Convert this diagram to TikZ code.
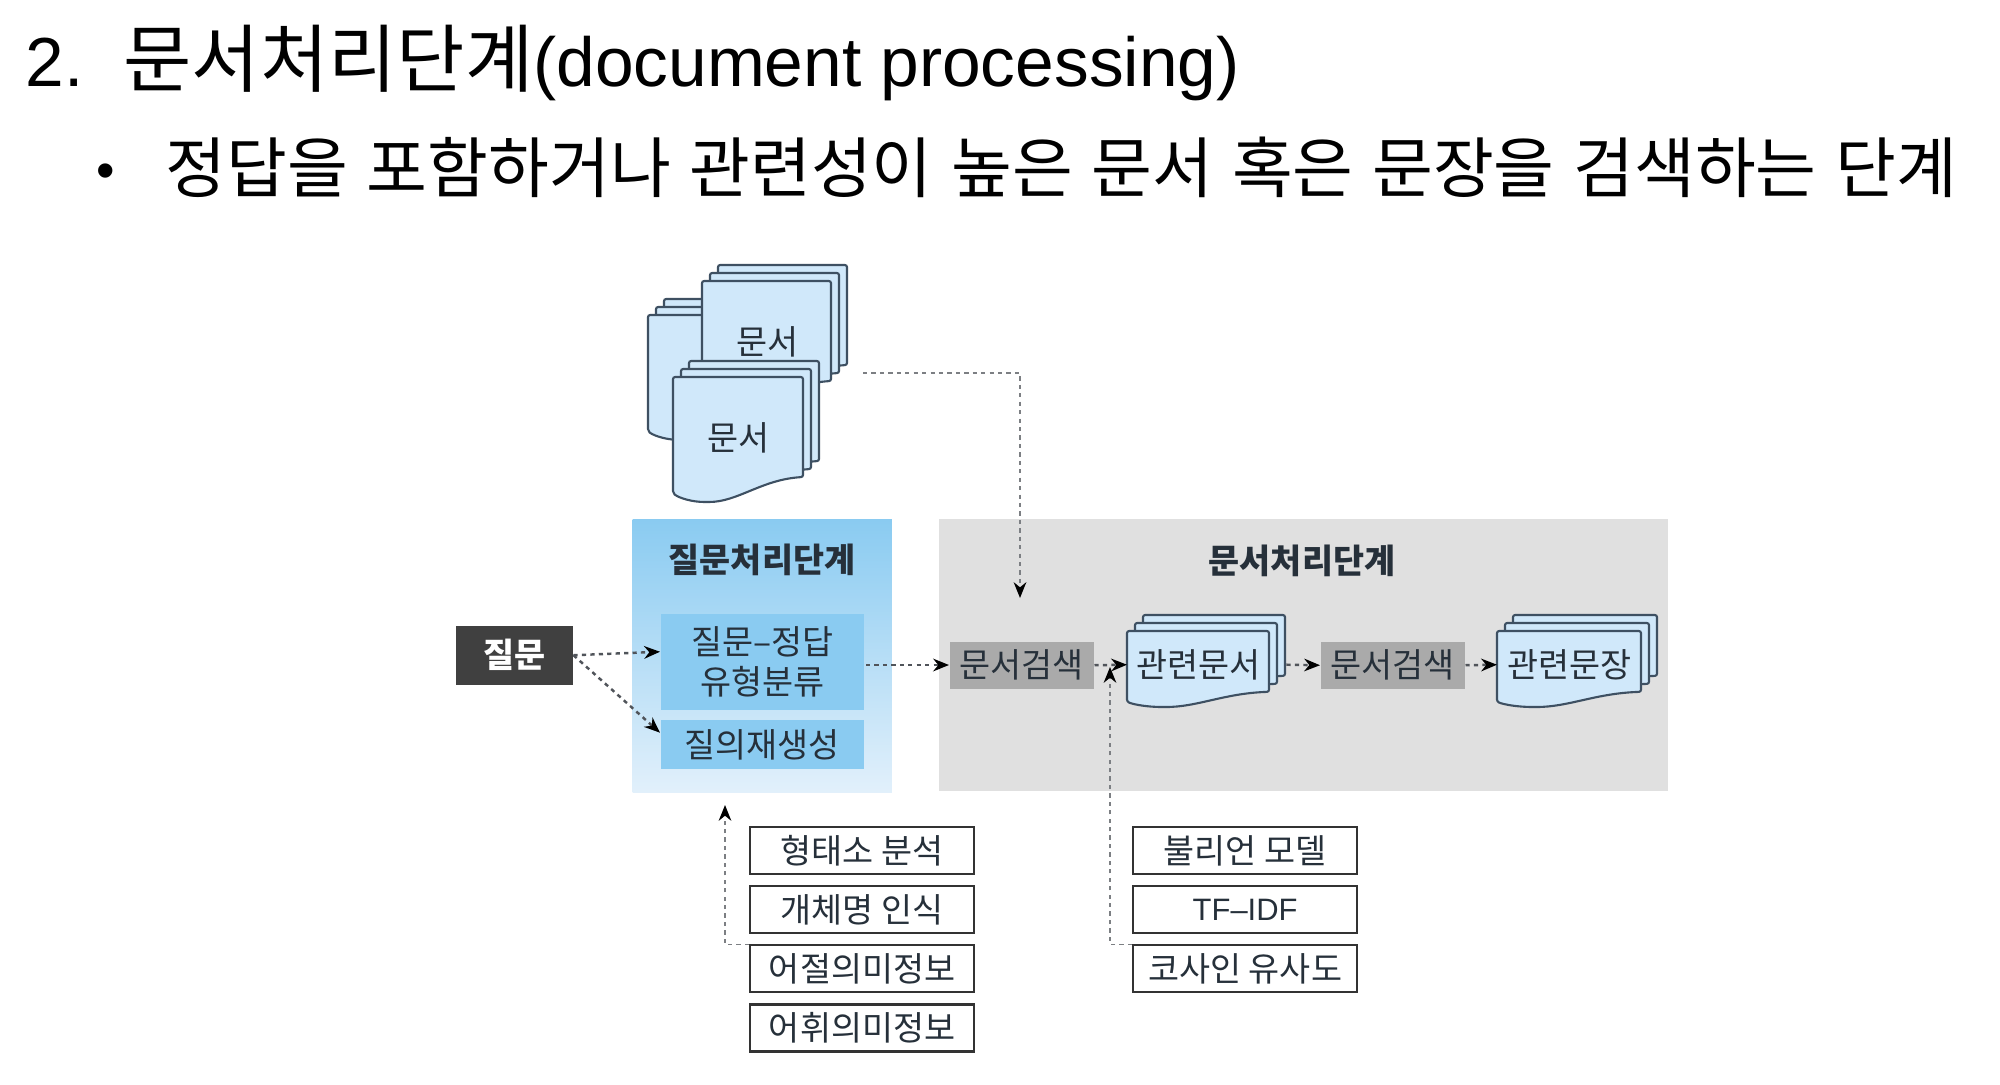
\documentclass[tikz,border=0pt]{standalone}
\usepackage{fontspec}
\setmainfont{Liberation Sans}
\newfontfamily\kor{Noto Sans CJK KR}
\usepackage{tikz}
\usetikzlibrary{arrows.meta,positioning,calc}
\definecolor{qanavy}{RGB}{38, 48, 58}
\definecolor{qablue}{RGB}{138, 203, 241}
\definecolor{qapale}{RGB}{226, 240, 251}
\definecolor{qasheet}{RGB}{208, 232, 250}
\definecolor{qaedge}{RGB}{62, 80, 98}
\definecolor{qapanel}{RGB}{224, 224, 224}
\definecolor{qasearch}{RGB}{170, 170, 170}
\definecolor{qadark}{RGB}{64, 64, 64}
\definecolor{qadots}{RGB}{80, 84, 90}
% one sheet: x, y, width, height
\newcommand{\docsheet}[4]{
    \begin{scope}[shift={(#1,#2)}, x=#3*0.01cm, y=#4*-0.01cm]
        \draw[sheet] (0,0) -- (1,0) -- (1,.8) .. controls (.68,.82) and (.5,1) .. (.26,1) .. controls (.15,1) and (.05,.97) .. (0,.93) -- cycle;
    \end{scope}
}
% stack of three sheets: name, x, y, width, height, label
\newcommand{\docstack}[6]{
    \docsheet{#2+16}{#3-16}{#4}{#5}
    \docsheet{#2+8}{#3-8}{#4}{#5}
    \docsheet{#2}{#3}{#4}{#5}
    \node[label, anchor=north west, minimum width=#4*0.01cm, minimum height=(#5*1.1-17.6)*0.01cm] (#1) at (#2,#3) {#6};
    \coordinate (#1back) at ($(#1.east)+(16,0)$);
}
\begin{document}
\begin{tikzpicture}[
    x=0.01cm, y=-0.01cm,
    label/.style={inner sep=0pt, align=center, text=qanavy, font=\fontsize{9.6}{11.3}\selectfont\kor},
    heavy/.style={font=\fontsize{9.6}{11.3}\selectfont\bfseries\kor},
    sheet/.style={draw=qaedge, fill=qasheet, line width=0.6pt, rounded corners=0.6pt},
    inner/.style={label, fill=qablue, minimum width=2.03cm},
    search/.style={label, fill=qasearch, minimum width=1.44cm, minimum height=0.47cm},
    tool/.style={label, draw=black!80, line width=0.6pt, minimum width=2.24cm, minimum height=0.47cm},
    flow/.style={draw=qadots, line width=0.7pt, dash pattern=on 1.2pt off 1.2pt, -{Stealth[length=4.5pt,width=3.6pt,black]}},
    thin flow/.style={flow, draw=qadots!75, line width=0.45pt}
]
    \useasboundingbox (0,0) rectangle (2000,1084);

    % Heading
    \node[anchor=base west, inner sep=0pt, font=\fontsize{19.75}{22}\selectfont] (num) at (25,86.5) {2.};
    \node[anchor=base west, inner sep=0pt, font=\fontsize{19.75}{22}\selectfont] (head) at (123,86.5) {{\fontsize{21.1}{22}\selectfont\kor 문서처리단계}(document processing)};
    \node[anchor=base, inner sep=0pt, font=\fontsize{15}{17}\selectfont] (dot) at (106,188) {•};
    \node[anchor=base west, inner sep=0pt, font=\fontsize{18.8}{22}\selectfont\kor] (sub) at (165,192.5) {\spaceskip=5.3pt\relax 정답을 포함하거나 관련성이 높은 문서 혹은 문장을 검색하는 단계};

    % Document stacks
    \docstack{docsb}{648}{315}{132}{125}{}
    \docstack{docsa}{702}{281}{129}{125}{문서}
    \docstack{docsc}{673}{377}{130}{125}{문서}

    % Question stage
    \node[anchor=north west, minimum width=1.17cm, minimum height=0.59cm, inner sep=0pt, fill=qadark, text=white, heavy] (ques) at (455,625) {질문};
    \node[anchor=north west, minimum width=2.59cm, minimum height=2.73cm, inner sep=0pt, top color=qablue, bottom color=qapale] (qstage) at (632,519) {};
    \node[label, heavy] (qtitle) at (762,560) {질문처리단계};
    \node[inner, anchor=north west, minimum height=0.96cm] (qtype) at (660,613) {질문–정답\\유형분류};
    \node[inner, below=0.09cm of qtype, minimum height=0.49cm] (qgen) {질의재생성};

    % Document stage
    \node[anchor=north west, minimum width=7.29cm, minimum height=2.72cm, inner sep=0pt, fill=qapanel] (dstage) at (938,518) {};
    \node[label, heavy] (dtitle) at (1302,561) {문서처리단계};
    \node[search, anchor=north west] (searcha) at (949,641) {문서검색};
    \docstack{docrel}{1127}{631}{142}{76}{관련문서}
    \node[search, anchor=north west] (searchb) at (1320,641) {문서검색};
    \docstack{sentrel}{1497}{631}{144}{76}{관련문장}

    % Tool boxes
    \node[tool, anchor=north west] (morph) at (749,826) {형태소 분석};
    \node[tool, below=0.1cm of morph] (entity) {개체명 인식};
    \node[tool, below=0.1cm of entity] (phrase) {어절의미정보};
    \node[tool, below=0.1cm of phrase] (lexical) {어휘의미정보};
    \node[tool, anchor=north west] (bool) at (1132,826) {불리언 모델};
    \node[tool, below=0.1cm of bool, font=\fontsize{8.8}{11.3}\selectfont] (tfidf) {TF–IDF};
    \node[tool, below=0.1cm of tfidf] (cosine) {코사인 유사도};

    % Free ends
    \coordinate (docsout) at (863,373);
    \coordinate (docsin) at (1020,598);
    \coordinate (qtip) at (725,805);
    \coordinate (rtip) at (1110,667);
    \coordinate (qout) at (866,665);
    \coordinate (typetip) at ($(qtype.west)+(0,-10)$);
    \coordinate (gentip) at ($(qgen.west)+(0,-12)$);

    % Connectors
    \draw[flow] (ques.east) -- (typetip);
    \draw[flow] (ques.east) -- (gentip);
    \draw[flow] (qout) -- (searcha.west |- qout);
    \draw[thin flow] (docsout) -| (docsin);
    \draw[flow] (searcha.east) -- (docrel.west);
    \draw[flow] (docrelback) -- (searchb.west);
    \draw[flow] (searchb.east) -- (sentrel.west);
    \draw[thin flow] (phrase.north west) -| (qtip);
    \draw[thin flow] (cosine.north west) -| (rtip);
\end{tikzpicture}
\end{document}
